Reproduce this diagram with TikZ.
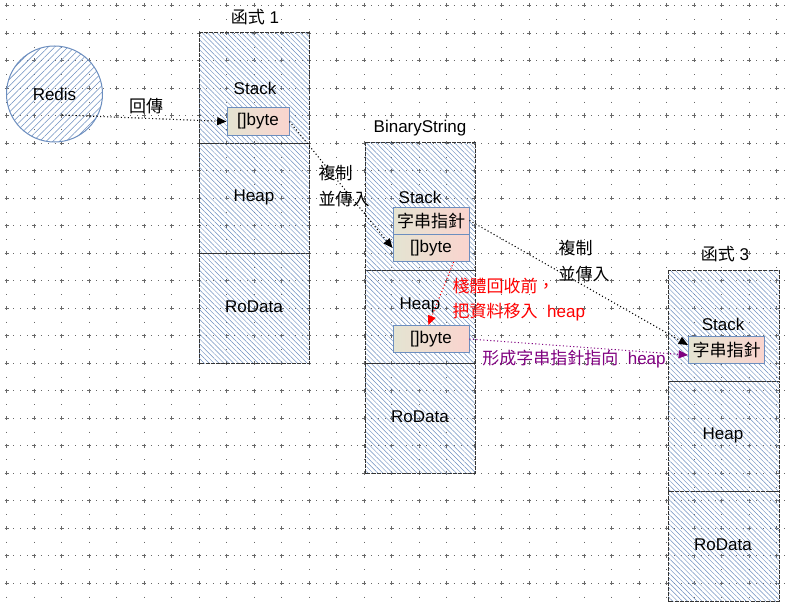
\documentclass[tikz,border=0pt]{standalone}
\usepackage{fontspec}
\setmainfont{Liberation Sans}
\newfontfamily\cjk{Noto Sans CJK TC}
\usetikzlibrary{arrows.meta,patterns.meta}

\definecolor{gridgray}{RGB}{105,105,105}
\definecolor{hatchblue}{RGB}{108,142,191}
\definecolor{boxleft}{RGB}{228,228,210}
\definecolor{boxright}{RGB}{250,212,206}
\definecolor{flowpurple}{RGB}{128,0,128}

\tikzset{
  hgrid/.style={gridgray, line width=0.6pt, dash pattern=on 0.6pt off 4.56pt},
  vgrid/.style={gridgray, line width=0.6pt, dash pattern=on 0.6pt off 9.71pt},
  section/.style={draw=black!80, line width=0.75pt, dash pattern=on 3pt off 0.8pt,
    pattern={Lines[angle=-45,distance=2.6pt,line width=0.35pt]}, pattern color=hatchblue},
  redisnode/.style={circle, draw=hatchblue, line width=0.75pt, minimum size=72pt,
    pattern={Lines[angle=45,distance=3.5pt,line width=0.4pt]}, pattern color=hatchblue},
  membox/.style={draw=hatchblue, line width=0.75pt, left color=boxleft, right color=boxright,
    minimum width=57pt, minimum height=20.25pt, inner sep=0pt},
  flow/.style={line width=0.8pt, dash pattern=on 0.8pt off 1.8pt,
    -{Triangle[length=7pt,width=6pt]}},
  twoline/.style={anchor=west, align=left, font=\fontsize{12.75}{20}\selectfont}
}

\begin{document}
\begin{tikzpicture}[x=0.75pt, y=-0.75pt, font=\fontsize{12.75}{15}\selectfont]
\useasboundingbox (0,0) rectangle (789,610);
% grid
\foreach \j in {0,...,21} \draw[hgrid] (6.5,5.5+27.5*\j) -- (789,5.5+27.5*\j);
\foreach \i in {0,...,28} \draw[vgrid] (6.5+27.5*\i,5.5) -- (6.5+27.5*\i,610);
\foreach \i in {0,...,28} \foreach \j in {0,...,21}
  \draw[gridgray, line width=0.5pt] (4.5+27.5*\i,5.5+27.5*\j) -- ++(4,0) (6.5+27.5*\i,3.5+27.5*\j) -- ++(0,4);
%
\node[redisnode] (redis) at (54.5,94) {Redis};
\coordinate (redisout) at (62,115);
\node (backlbl) at (146,106) {\cjk 回傳};
%
\node (f1title) at (255,17) {{\cjk 函式} 1};
\draw[section] (199,33) rectangle (309,143);
\draw[section] (199,143) rectangle (309,253);
\draw[section] (199,253) rectangle (309,363);
\node (f1stack) at (255,88) {Stack};
\node (f1heap) at (254,197) {Heap};
\node (f1rodata) at (254,307) {RoData};
\node[membox, minimum width=46.5pt] (f1byte) at (258,121.5) {[]byte};
%
\node (bstitle) at (420,128) {BinaryString};
\draw[section] (365,142) rectangle (475,270);
\draw[section] (365,270) rectangle (475,363);
\draw[section] (365,363) rectangle (475,473);
\node (bsstack) at (420,197) {Stack};
\node (bsheaplbl) at (420,305) {Heap};
\node (bsrodata) at (420,417) {RoData};
\node[membox] (bsptr) at (431,220.5) {\cjk 字串指針};
\node[membox] (bsbyte) at (431,248) {[]byte};
\node[membox] (bsheap) at (431,339) {[]byte};
%
\node (f3title) at (725,254) {{\cjk 函式} 3};
\draw[section] (668,270) rectangle (779,381);
\draw[section] (668,381) rectangle (779,491);
\draw[section] (668,491) rectangle (779,601);
\node (f3stack) at (723,324) {Stack};
\node (f3heap) at (723,435) {Heap};
\node (f3rodata) at (723,545) {RoData};
\node[membox] (f3ptr) at (726.5,350) {\cjk 字串指針};
%
\node[twoline] (copylbl1) at (314,186) {{\cjk 複制}\\{\cjk 並傳入}};
\node[twoline] (copylbl2) at (554,261) {{\cjk 複制}\\{\cjk 並傳入}};
\node[twoline, red, font=\fontsize{12.75}{18.75}\selectfont] (movelbl) at (448,300)
  {{\cjk 棧體回收前，}\\{\cjk 把資料移入}\ \ heap};
\node[flowpurple] (pointlbl) at (574,359) {{\cjk 形成字串指針指向}\ \ heap};
%
\draw[flow] (redisout) -- (f1byte.west);
\draw[flow] (f1byte.east) -- (bsbyte.west);
\draw[flow] (bsptr.east) -- ([yshift=3.75pt]f3ptr.west);
\draw[flow, flowpurple] (bsheap.east) -- ([yshift=-3.75pt]f3ptr.west);
\draw[flow, red] ([xshift=17pt]bsbyte.south) -- ([xshift=-2pt]bsheap.north);
\end{tikzpicture}
\end{document}
